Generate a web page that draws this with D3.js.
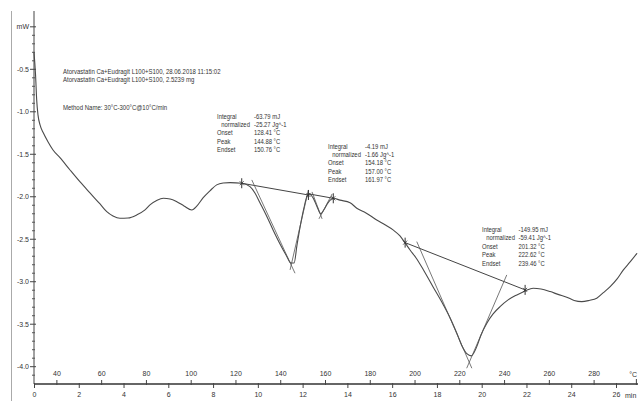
<!DOCTYPE html>
<html><head><meta charset="utf-8">
<script src="https://cdn.jsdelivr.net/npm/d3@7"></script>
<style>
body{margin:0;background:#fff;}
svg{display:block;}
text{font-family:"Liberation Sans",Arial,sans-serif;fill:#333;}
</style></head>
<body><svg id="c" width="638" height="401"></svg>
<script>
// ---- data (time in min, heat flow in mW) ----
const timeMin = [0,0.07,0.12,0.18,0.27,0.42,0.63,0.85,1.16,1.61,2.06,2.50,2.95,3.25,3.53,3.84,4.2,4.59,4.96,5.18,5.50,5.78,6.08,6.38,6.70,7.05,7.28,7.55,7.86,8.16,8.45,8.76,9.28,9.65,9.87,10.10,10.37,10.68,10.99,11.26,11.48,11.62,11.75,11.89,12.06,12.20,12.29,12.47,12.65,12.81,12.96,13.14,13.37,13.67,14.12,14.42,14.83,15.31,15.68,16.04,16.35,16.58,16.80,17.07,17.40,17.83,18.29,18.59,18.89,19.12,19.35,19.53,19.78,19.97,20.23,20.51,20.82,21.18,21.57,21.94,22.30,22.65,23.06,23.41,23.80,24.13,24.47,24.80,25.14,25.42,25.74,26.05,26.33,26.63,26.94];
const heatFlow = [-0.30,-0.57,-0.86,-1.04,-1.155,-1.25,-1.355,-1.45,-1.54,-1.685,-1.826,-1.955,-2.085,-2.175,-2.226,-2.253,-2.25,-2.214,-2.155,-2.096,-2.04,-2.018,-2.026,-2.058,-2.108,-2.155,-2.108,-2.014,-1.93,-1.86,-1.838,-1.834,-1.841,-1.881,-1.955,-2.073,-2.214,-2.39,-2.555,-2.685,-2.779,-2.779,-2.567,-2.352,-2.13,-1.99,-1.967,-2.014,-2.12,-2.20,-2.15,-2.07,-2.018,-2.04,-2.07,-2.135,-2.19,-2.273,-2.33,-2.39,-2.461,-2.544,-2.626,-2.72,-2.861,-3.061,-3.273,-3.426,-3.606,-3.755,-3.85,-3.873,-3.764,-3.626,-3.488,-3.379,-3.293,-3.214,-3.155,-3.108,-3.076,-3.085,-3.116,-3.149,-3.182,-3.22,-3.234,-3.22,-3.194,-3.132,-3.058,-2.967,-2.861,-2.767,-2.665];

// evaluation construction lines: [t1, v1, t2, v2]
const baselineSegs = [[9.28,-1.841,12.26,-1.979],[12.29,-1.967,13.37,-2.018],[16.58,-2.54,21.94,-3.096]];
const tangentSegs = [[9.73,-1.802,11.66,-2.90],[12.26,-1.92,11.44,-2.861],[12.42,-1.943,12.87,-2.26],[13.32,-1.967,12.73,-2.26],[17.10,-2.528,19.56,-4.018],[21.12,-2.92,19.33,-4.018]];
const markerTimes = [9.28,12.26,13.37,16.58,21.94];
const markerValues = [-1.841,-1.979,-2.018,-2.54,-3.096];

// axis ticks
const yMajorTicks = [0,-0.5,-1.0,-1.5,-2.0,-2.5,-3.0,-3.5,-4.0];
const timeTicks = [0,2,4,6,8,10,12,14,16,18,20,22,24,26];
const tempTicks = [40,60,80,100,120,140,160,180,200,220,240,260,280];

// texts
const headerLines = ["Atorvastatin Ca+Eudragit L100+S100, 28.06.2018 11:15:02","Atorvastatin Ca+Eudragit L100+S100, 2.5239 mg"];
const methodLine = "Method Name: 30°C-300°C@10°C/min";
const evalLabels = ["Integral","normalized","Onset","Peak","Endset"];
const evalValues1 = ["-63.79 mJ","-25.27 Jg^-1","128.41 °C","144.88 °C","150.76 °C"];
const evalValues2 = ["-4.19 mJ","-1.66 Jg^-1","154.18 °C","157.00 °C","161.97 °C"];
const evalValues3 = ["-149.95 mJ","-59.41 Jg^-1","201.32 °C","222.62 °C","239.46 °C"];

// ---- drawing ----
const svg = d3.select("#c");
const x = d3.scaleLinear().domain([0,26]).range([34,616]);
const y = d3.scaleLinear().domain([-0.5,-4.0]).range([69.3,366.7]);
const xTemp = d3.scaleLinear().domain([30,300]).range([x(0),x(27)]);
const axisY = 384;

// frame line on the left
svg.append("line").attr("x1",11.5).attr("x2",11.5).attr("y1",11).attr("y2",401).attr("stroke","#aaa").attr("stroke-width",1);

// y axis
const yAx = svg.append("g").attr("transform","translate(34,0)");
yAx.append("line").attr("x1",0).attr("x2",0).attr("y1",11).attr("y2",axisY).attr("stroke","#444");
const minor = d3.range(0,-42,-1).map(d=>d/10).filter(d=>!yMajorTicks.some(m=>Math.abs(m-d)<1e-6));
yAx.selectAll(".mn").data(minor).join("line").attr("x1",-2).attr("x2",1)
  .attr("y1",d=>y(d)).attr("y2",d=>y(d)).attr("stroke","#555");
yAx.selectAll(".mj").data(yMajorTicks).join("line").attr("x1",-4).attr("x2",2)
  .attr("y1",d=>y(d)).attr("y2",d=>y(d)).attr("stroke","#444");
yAx.selectAll(".lb").data(yMajorTicks).join("text")
  .attr("x",-5).attr("y",d=>y(d)).attr("dy","0.35em").attr("text-anchor","end")
  .attr("font-size","7px").text(d=>d===0?"mW":d.toFixed(1));

// bottom axis
svg.append("line").attr("x1",x(0)).attr("x2",638).attr("y1",axisY).attr("y2",axisY).attr("stroke","#333").attr("stroke-width",1.6);
const tA = d3.axisBottom(x).tickValues(timeTicks).tickSize(5).tickFormat(d=>d);
const gT = svg.append("g").attr("transform",`translate(0,${axisY-1})`).call(tA);
gT.select(".domain").remove();
gT.selectAll("text").attr("font-size","7px").attr("dy","0.85em").attr("fill","#333");
gT.selectAll("line").attr("stroke","#444");
const tpA = d3.axisTop(xTemp).tickValues(tempTicks).tickSize(5).tickFormat(d=>d);
const gP = svg.append("g").attr("transform",`translate(0,${axisY+1})`).call(tpA);
gP.select(".domain").remove();
gP.selectAll("text").attr("font-size","7px").attr("fill","#333").attr("dy","-0.2em");
gP.selectAll("line").attr("stroke","#444");
svg.append("text").attr("x",637).attr("y",377).attr("text-anchor","end").attr("font-size","7px").text("°C");
svg.append("line").attr("x1",xTemp(300)-2).attr("x2",xTemp(300)-2).attr("y1",axisY-5).attr("y2",axisY+1).attr("stroke","#444");
svg.append("text").attr("x",625).attr("y",398).attr("font-size","7px").text("min");

// curve
const pts = timeMin.map((t,i)=>[t,heatFlow[i]]);
svg.append("path").datum(pts)
  .attr("d",d3.line().x(d=>x(d[0])).y(d=>y(d[1])).curve(d3.curveMonotoneX))
  .attr("fill","none").attr("stroke","#4a4a4a").attr("stroke-width",1.1);

// baselines & tangents
svg.selectAll(".bl").data(baselineSegs).join("line")
  .attr("x1",d=>x(d[0])).attr("y1",d=>y(d[1])).attr("x2",d=>x(d[2])).attr("y2",d=>y(d[3]))
  .attr("stroke","#444").attr("stroke-width",1);
svg.selectAll(".tg").data(tangentSegs).join("line")
  .attr("x1",d=>x(d[0])).attr("y1",d=>y(d[1])).attr("x2",d=>x(d[2])).attr("y2",d=>y(d[3]))
  .attr("stroke","#555").attr("stroke-width",0.8);
// markers
const mk = svg.selectAll(".mk").data(markerTimes).join("g")
  .attr("transform",(d,i)=>`translate(${x(d)},${y(markerValues[i])})`);
mk.append("line").attr("x1",0).attr("x2",0).attr("y1",-5).attr("y2",5).attr("stroke","#333");
mk.append("path").attr("d","M-2,-2L2,2M-2,2L2,-2").attr("stroke","#333").attr("stroke-width",0.8);

// header text
const hdr = svg.append("g").attr("transform","translate(63,0) scale(0.86,1)");
hdr.selectAll("text").data(headerLines).join("text")
  .attr("x",0).attr("y",(d,i)=>74+i*8).attr("font-size","7px").text(d=>d);
hdr.append("text").attr("x",0).attr("y",110).attr("font-size","7px").text(methodLine);

// evaluation blocks
function evalBlock(x0,y0,valDx,vals){
  const g = svg.append("g").attr("transform",`translate(${x0},${y0}) scale(0.84,1)`);
  g.selectAll(".l").data(evalLabels).join("text")
    .attr("x",(d,i)=>i===1?5:0).attr("y",(d,i)=>i*8.5).attr("font-size","7px").text(d=>d);
  g.selectAll(".v").data(vals).join("text")
    .attr("x",valDx/0.84).attr("y",(d,i)=>i*8.5).attr("font-size","7px").text(d=>d);
}
evalBlock(217,118.5,37,evalValues1);
evalBlock(328,148.5,37,evalValues2);
evalBlock(482,232,36.5,evalValues3);
</script></body></html>
